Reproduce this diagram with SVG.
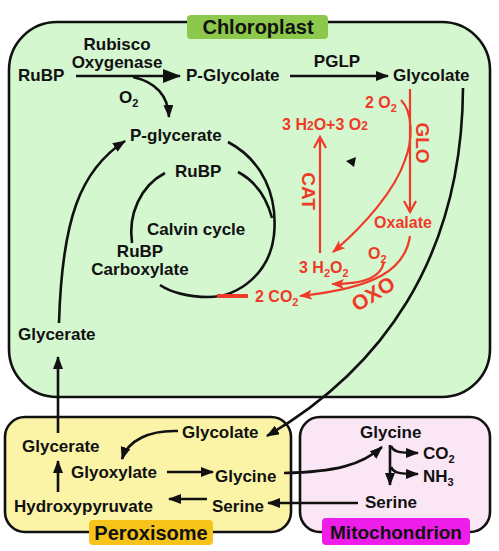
<svg xmlns="http://www.w3.org/2000/svg" width="499" height="551" viewBox="0 0 499 551">
<defs>
<style>
text{font-family:"Liberation Sans",Arial,sans-serif;font-weight:bold;font-size:17px;fill:#111}
.r{fill:#ef3a2a}
.c{text-anchor:middle}
.k{fill:none;stroke:#111;stroke-width:2.6}
.rl{fill:none;stroke:#ef3a2a;stroke-width:2.2}
.box{stroke:#111;stroke-width:2.6}
.sub{font-size:11px}
</style>
<marker id="ah" markerUnits="userSpaceOnUse" markerWidth="13" markerHeight="10" refX="12" refY="5" orient="auto"><path d="M0,0 L13,5 L0,10 z" fill="#111"/></marker>
<marker id="ahb" markerUnits="userSpaceOnUse" markerWidth="18" markerHeight="14" refX="17" refY="7" orient="auto"><path d="M0,0 L18,7 L0,14 z" fill="#111"/></marker>
<marker id="rf" markerUnits="userSpaceOnUse" markerWidth="13" markerHeight="10" refX="12" refY="5" orient="auto"><path d="M0,0 L13,5 L0,10 L3,5 z" fill="#ef3a2a"/></marker>
<marker id="ro" markerUnits="userSpaceOnUse" markerWidth="14" markerHeight="14" refX="12" refY="7" orient="auto"><path d="M1,1 L12,7 L1,13" fill="none" stroke="#ef3a2a" stroke-width="2.2"/></marker>
</defs>

<g id="chloroplast">
<rect class="box" x="9" y="22" width="481" height="375" rx="48" ry="48" fill="#d4f7cf"/>
<rect x="187" y="15" width="141" height="24" rx="4" fill="#8cc84b"/>
<text class="c" x="258" y="34" style="font-size:20px">Chloroplast</text>
</g>
<g id="peroxisome">
<rect class="box" x="5" y="417" width="286" height="115" rx="20" fill="#fbf4a6"/>
<rect x="89" y="520" width="124" height="25" rx="4" fill="#f6c31a"/>
<text class="c" x="151" y="540" style="font-size:20px">Peroxisome</text>
</g>
<g id="mitochondrion">
<rect class="box" x="300" y="417" width="190" height="115" rx="20" fill="#fbe6f5"/>
<rect x="322" y="518" width="148" height="27" rx="4" fill="#ee1de9"/>
<text class="c" x="396" y="539" style="font-size:19px">Mitochondrion</text>
</g>

<g id="n-rubp1"><text x="18" y="81">RuBP</text></g>
<g id="n-rubisco"><text class="c" x="117" y="50">Rubisco</text><text class="c" x="117" y="68">Oxygenase</text></g>
<g id="n-pglycolate"><text x="186" y="81">P-Glycolate</text></g>
<g id="n-pglp"><text class="c" x="337" y="67">PGLP</text></g>
<g id="n-glycolate1"><text x="393" y="81">Glycolate</text></g>
<g id="n-o2"><text x="119" y="103">O<tspan class="sub" dy="4">2</tspan></text></g>
<g id="n-pglycerate"><text x="130" y="141">P-glycerate</text></g>
<g id="n-rubp2"><text x="175" y="177">RuBP</text></g>
<g id="n-calvin"><text x="147" y="235">Calvin cycle</text></g>
<g id="n-carbox"><text class="c" x="140" y="257">RuBP</text><text class="c" x="140" y="275">Carboxylate</text></g>
<g id="n-glycerate1"><text x="18" y="340">Glycerate</text></g>

<g id="n-red" >
<text class="r" x="365" y="108" style="font-size:16px">2 O<tspan class="sub" dy="4">2</tspan></text>
<text class="r c" x="325" y="130" style="font-size:16px">3 H<tspan style="font-size:12px">2</tspan>O+3 O<tspan style="font-size:12px">2</tspan></text>
<text class="r c" transform="translate(416,143) rotate(90)" style="font-size:19px">GLO</text>
<text class="r c" transform="translate(302,191) rotate(90)" style="font-size:19px">CAT</text>
<text class="r c" x="403" y="228" style="font-size:16px">Oxalate</text>
<text class="r" x="368" y="259" style="font-size:16px">O<tspan class="sub" dy="4">2</tspan></text>
<text class="r" x="299" y="273" style="font-size:16px">3 H<tspan class="sub" dy="4">2</tspan><tspan dy="-4">O</tspan><tspan class="sub" dy="4">2</tspan></text>
<text class="r" x="255" y="302" style="font-size:16px">2 CO<tspan class="sub" dy="4">2</tspan></text>
<text class="r c" transform="translate(377,300) rotate(-32)" style="font-size:21px">OXO</text>
</g>

<g id="n-perox">
<text x="182" y="438">Glycolate</text>
<text x="22" y="452">Glycerate</text>
<text x="71" y="478">Glyoxylate</text>
<text x="215" y="482">Glycine</text>
<text x="14" y="512">Hydroxypyruvate</text>
<text x="212" y="512">Serine</text>
</g>
<g id="n-mito">
<text x="360" y="438">Glycine</text>
<text x="423" y="459">CO<tspan class="sub" dy="4">2</tspan></text>
<text x="423" y="482">NH<tspan class="sub" dy="4">3</tspan></text>
<text x="365" y="508">Serine</text>
</g>

<g id="connectors">
<path class="k" d="M76,76 L180,76" stroke-width="5" marker-end="url(#ahb)"/>
<path class="k" d="M290,76 L388,76" marker-end="url(#ah)"/>
<path class="k" d="M133,77 C155,82 168,95 169,117" stroke-width="2.2" marker-end="url(#ah)"/>
<path class="k" d="M59,323 C62,220 80,170 125,141" stroke-width="2.4" marker-end="url(#ah)"/>
<path class="k" d="M165,173 C140,186 128,215 132,243" stroke-width="3.6"/>
<path class="k" d="M228,142 C262,160 278,195 274,235 C270,272 240,297 208,297 C188,297 170,292 160,285" stroke-width="3.6"/>
<path class="k" d="M238,172 C255,181 266,195 272,218" stroke-width="3.6"/>
<path d="M217,296 L248,296" stroke="#ef3a2a" stroke-width="4"/>
<path class="k" d="M463,88 C462,260 380,370 267,436" stroke-width="2.4" marker-end="url(#ah)"/>

<path class="rl" d="M410,89 L410,212" marker-end="url(#ro)"/>
<path class="rl" d="M320,253 L320,137" marker-end="url(#ro)"/>
<path class="rl" d="M401,100 C413,112 413,140 405,160 C395,190 365,225 333,252" marker-end="url(#rf)"/>
<path class="rl" d="M410,236 C405,270 375,288 300,296" marker-end="url(#rf)"/>
<path class="rl" d="M384,262 C381,276 368,284 332,284" marker-end="url(#rf)"/>
<polygon points="346,161 356,157 354,167" fill="#111"/>

<path class="k" d="M58,433 L58,357" stroke-width="2.4" marker-end="url(#ah)"/>
<path class="k" d="M178,431 C150,430 128,440 122,459" marker-end="url(#ah)"/>
<path class="k" d="M167,472 L213,472" marker-end="url(#ah)"/>
<path class="k" d="M207,499 L169,499" marker-end="url(#ah)"/>
<path class="k" d="M58,492 L58,461" marker-end="url(#ah)"/>
<path class="k" d="M358,503 L268,503" stroke-width="2.4" marker-end="url(#ah)"/>
<path class="k" d="M284,473 C335,472 362,465 382,447" stroke-width="2.4" marker-end="url(#ah)"/>
<path class="k" d="M390,445 L390,485" stroke-width="2.4" marker-end="url(#ah)"/>
<path class="k" d="M391,446 C393,451 396,453 418,453" stroke-width="2.4" marker-end="url(#ah)"/>
<path class="k" d="M391,467 C393,472 396,474 418,474" stroke-width="2.4" marker-end="url(#ah)"/>
</g>
</svg>
